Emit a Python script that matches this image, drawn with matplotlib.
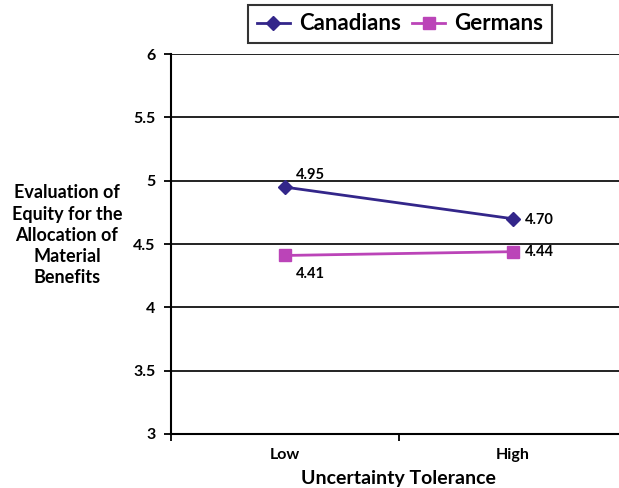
import numpy as np
import matplotlib.pyplot as plt

plt.rcParams['font.family'] = ['Lato', 'DejaVu Sans']
plt.rcParams['font.weight'] = 'bold'

categories = ['Low', 'High']
canadians = [4.95, 4.70]
germans = [4.41, 4.44]

navy = '#33268a'
magenta = '#bb44b8'

fig = plt.figure(figsize=(6.19, 4.88), dpi=100)
ax = fig.add_axes([0.276, 0.1107, 0.7367, 0.7783])

x = np.arange(len(categories))
ax.plot(x, canadians, color=navy, lw=2, marker='D', ms=7, label='Canadians', zorder=3)
ax.plot(x, germans, color=magenta, lw=2, marker='s', ms=9, label='Germans', zorder=3)

# value labels next to each point
lbl = dict(textcoords='offset points', fontsize=10.5, fontweight='bold')
ax.annotate(f'{canadians[0]:.2f}', (x[0], canadians[0]), xytext=(8, 6), **lbl)
ax.annotate(f'{canadians[1]:.2f}', (x[1], canadians[1]), xytext=(9, -4), **lbl)
ax.annotate(f'{germans[0]:.2f}', (x[0], germans[0]), xytext=(8, -16), **lbl)
ax.annotate(f'{germans[1]:.2f}', (x[1], germans[1]), xytext=(9, -3), **lbl)

ax.set_xlim(-0.5, 1.5)
ax.set_ylim(3, 6)
ax.set_yticks(np.arange(3, 6.01, 0.5))
ax.set_yticklabels(['3', '3.5', '4', '4.5', '5', '5.5', '6'])
ax.yaxis.grid(True, color='#222222', lw=1.4)
ax.set_axisbelow(True)

ax.set_xticks(x)
ax.set_xticklabels(categories)
ax.set_xticks([-0.5, 0.5, 1.5], minor=True)
ax.tick_params(axis='x', which='major', length=0, pad=10, labelsize=11.5)
ax.tick_params(axis='x', which='minor', length=5, width=1.3, direction='out')
ax.tick_params(axis='y', length=5, width=1.3, direction='out', labelsize=11.5, pad=6)

for side in ['top', 'right']:
    ax.spines[side].set_visible(False)
ax.spines['left'].set_linewidth(1.5)
ax.spines['bottom'].set_linewidth(1.5)

ax.set_xlabel('Uncertainty Tolerance', fontsize=14, fontweight='bold', labelpad=6)
fig.text(0.108, 0.518, 'Evaluation of\nEquity for the\nAllocation of\nMaterial\nBenefits',
         ha='center', va='center', fontsize=13, fontweight='bold', linespacing=1.3)

leg = fig.legend(loc='center', bbox_to_anchor=(0.646, 0.951), ncol=2,
                 prop={'size': 16, 'weight': 'bold'}, frameon=True, fancybox=False,
                 handlelength=1.5, columnspacing=0.5, handletextpad=0.4,
                 borderpad=0.4, borderaxespad=0)
leg.get_frame().set_edgecolor('black')
leg.get_frame().set_linewidth(1.5)

fig.savefig('out.png', dpi=100)
